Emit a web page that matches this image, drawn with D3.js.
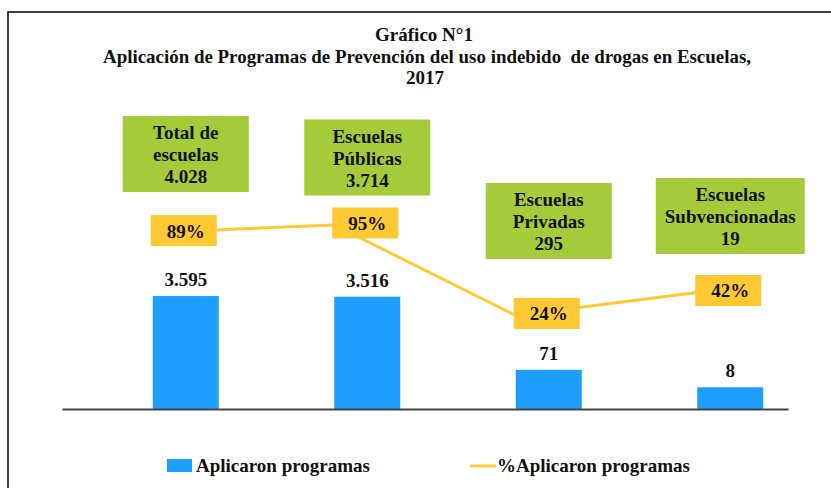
<!DOCTYPE html>
<html>
<head>
<meta charset="utf-8">
<script src="https://cdn.jsdelivr.net/npm/d3@7"></script>
<style>
  body { margin: 0; background: #fff; }
  svg { display: block; font-family: "Liberation Serif", "Times New Roman", serif; font-weight: bold; }
  .title text { white-space: pre; }
</style>
</head>
<body>
<script>
// chart data
var categories = ["total", "publicas", "privadas", "subvencionadas"];
var calloutLines = [["Total de", "escuelas"], ["Escuelas", "Públicas"], ["Escuelas", "Privadas"], ["Escuelas", "Subvencionadas"]];
var totalSchools = [4028, 3714, 295, 19];
var applied = [3595, 3516, 71, 8];
var appliedPct = [89, 95, 24, 42];
var titleLines = ["Gráfico N°1", "Aplicación de Programas de Prevención del uso indebido  de drogas en Escuelas,", "2017"];
var legendLabels = ["Aplicaron programas", "%Aplicaron programas"];

// callout box vertical centres (annotation layout, not data)
var calloutCenterY = [154, 157.5, 221, 216];

var width = 831, height = 488;
var barColor = "#1E9FFF", pctColor = "#FFC933", boxColor = "#A5CB3A";

var fmt = d3.formatLocale({decimal: ",", thousands: ".", grouping: [3], currency: ["$", ""]}).format(",d");

var svg = d3.select("body").append("svg")
    .attr("width", width)
    .attr("height", height);

// frame (left + top edge of the original picture)
svg.append("path")
    .attr("d", "M8," + height + "V12H" + width)
    .attr("fill", "none")
    .attr("stroke", "#000")
    .attr("stroke-width", 1.5);

// title
var title = svg.append("g").attr("class", "title").attr("text-anchor", "middle").attr("font-size", 19).attr("fill", "#111");
title.append("text").attr("x", 424).attr("y", 40.5).text(titleLines[0]);
title.append("text").attr("x", 427).attr("y", 62.5)
    .attr("textLength", 648).attr("lengthAdjust", "spacingAndGlyphs")
    .text(titleLines[1]);
title.append("text").attr("x", 425).attr("y", 83.5).text(titleLines[2]);

// scales
var x = d3.scaleBand()
    .domain(categories)
    .range([62, 788]);

var barW = 66;
var baseY = 409;

// bars are not proportional in the source, a compressing power scale fits them
var yBar = d3.scalePow()
    .exponent(0.27)
    .domain([0, 3600])
    .range([baseY, baseY - 113]);

var yPct = d3.scaleLinear()
    .domain([0, 100])
    .range([346, 218.6]);

function cx(d){ return x(d) + x.bandwidth() / 2; }

// bars
var data = categories.map(function(c, i){
    return {cat: c, applied: applied[i], pct: appliedPct[i], total: totalSchools[i], lines: calloutLines[i], cy: calloutCenterY[i]};
});

svg.selectAll(".bar")
    .data(data)
    .enter()
    .append("rect")
    .attr("class", "bar")
    .attr("x", function(d){ return cx(d.cat); })
    .attr("width", barW)
    .attr("y", function(d){ return yBar(d.applied); })
    .attr("height", function(d){ return baseY - yBar(d.applied); })
    .attr("fill", barColor);

// axis baseline
var axis = svg.append("g")
    .attr("transform", "translate(0," + baseY + ")")
    .call(d3.axisBottom(x).tickSize(0).tickFormat(""));
axis.select(".domain").attr("stroke", "#444").attr("stroke-width", 2);

// bar value labels
svg.selectAll(".barLabel")
    .data(data)
    .enter()
    .append("text")
    .attr("class", "barLabel")
    .attr("text-anchor", "middle")
    .attr("font-size", 19)
    .attr("fill", "#111")
    .attr("x", function(d){ return cx(d.cat) + barW / 2; })
    .attr("y", function(d){ return yBar(d.applied) - 10; })
    .text(function(d){ return fmt(d.applied); });

// percentage line
var line = d3.line()
    .x(function(d){ return cx(d.cat); })
    .y(function(d){ return yPct(d.pct); });

svg.append("path")
    .datum(data)
    .attr("d", line)
    .attr("fill", "none")
    .attr("stroke", pctColor)
    .attr("stroke-width", 3);

// percentage label boxes
var pctLabels = svg.selectAll(".pctLabel")
    .data(data)
    .enter()
    .append("g")
    .attr("class", "pctLabel")
    .attr("transform", function(d){
        return "translate(" + (cx(d.cat) - 2) + "," + (yPct(d.pct) - 17.5) + ")";
    });
pctLabels.append("rect")
    .attr("width", 66)
    .attr("height", 31)
    .attr("fill", pctColor);
pctLabels.append("text")
    .attr("x", 35)
    .attr("y", 22.5)
    .attr("text-anchor", "middle")
    .attr("font-size", 19)
    .attr("fill", "#111")
    .text(function(d){ return d.pct + "%"; });

// green callouts
var callouts = svg.selectAll(".callout")
    .data(data)
    .enter()
    .append("g")
    .attr("class", "callout")
    .attr("transform", function(d){
        return "translate(" + (cx(d.cat) + barW / 2) + "," + d.cy + ")";
    });
var calloutRects = callouts.append("rect")
    .attr("y", -38)
    .attr("height", 76)
    .attr("fill", boxColor);
var calloutText = callouts.append("text")
    .attr("text-anchor", "middle")
    .attr("font-size", 19)
    .attr("fill", "#111");
calloutText.selectAll("tspan")
    .data(function(d){ return d.lines.concat([fmt(d.total)]); })
    .enter()
    .append("tspan")
    .attr("x", 0)
    .attr("y", function(d, i){ return -15 + i * 22; })
    .text(function(d){ return d; });
calloutRects.each(function(){
    var tw = this.parentNode.querySelector("text").getBBox().width;
    var w = Math.max(126, tw + 18);
    d3.select(this).attr("x", -w / 2).attr("width", w);
});

// legend
var legend = svg.append("g").attr("font-size", 19).attr("fill", "#111");
legend.append("rect")
    .attr("x", 167).attr("y", 459)
    .attr("width", 25).attr("height", 13)
    .attr("fill", barColor);
legend.append("text").attr("x", 196).attr("y", 472).text(legendLabels[0]);
legend.append("line")
    .attr("x1", 470).attr("x2", 496)
    .attr("y1", 466).attr("y2", 466)
    .attr("stroke", pctColor)
    .attr("stroke-width", 3);
legend.append("text").attr("x", 497).attr("y", 472).text(legendLabels[1]);
</script>
</body>
</html>
